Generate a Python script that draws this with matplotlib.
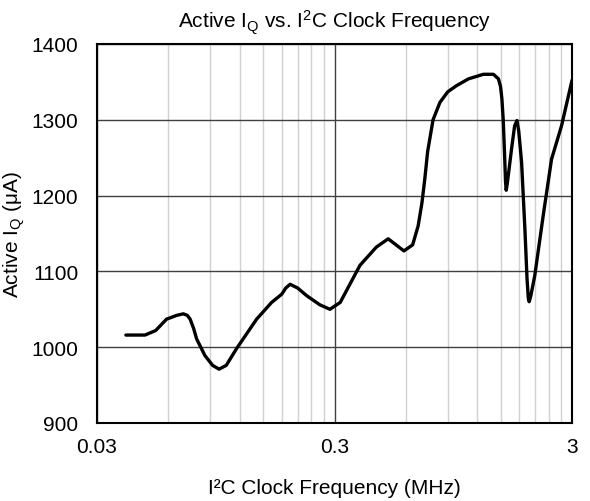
import matplotlib
matplotlib.use('Agg')
import matplotlib.pyplot as plt
from matplotlib.ticker import FixedLocator, NullFormatter

plt.rcParams['font.family'] = ['Liberation Sans', 'DejaVu Sans']
plt.rcParams['mathtext.fontset'] = 'custom'
plt.rcParams['mathtext.rm'] = 'Liberation Sans'
plt.rcParams['mathtext.it'] = 'Liberation Sans'

# clock frequency (MHz) and active current (uA)
freq = [0.0397, 0.0478, 0.0530, 0.0589, 0.0650, 0.0693, 0.0720, 0.0740, 0.0765, 0.0788,
        0.0854, 0.0920, 0.0980, 0.1050, 0.1160, 0.1410, 0.1630, 0.1800, 0.1870, 0.1950,
        0.2100, 0.2290, 0.2600, 0.2870, 0.3170, 0.3840, 0.4500, 0.5050, 0.5880, 0.6400,
        0.6750, 0.7000, 0.7200, 0.7400, 0.7800, 0.8340, 0.9000, 0.9790, 1.1000, 1.2700,
        1.4000, 1.4700, 1.5000, 1.5200, 1.5400, 1.5600, 1.5750, 1.5850, 1.6000, 1.6300,
        1.6700, 1.7200, 1.7600, 1.7900, 1.8400, 1.9000, 1.9400, 1.9650, 1.9800, 2.0100,
        2.0900, 2.2700, 2.4600, 2.7100, 3.0000]
iq = [1016, 1016, 1022, 1037, 1042, 1044, 1042, 1037, 1025, 1011,
      989, 976, 971, 976, 998, 1037, 1059, 1070, 1078, 1083,
      1078, 1068, 1056, 1050, 1059, 1108, 1132, 1143, 1127, 1135,
      1160, 1190, 1222, 1258, 1300, 1323, 1337, 1345, 1354, 1360,
      1360, 1354, 1344, 1328, 1300, 1255, 1218, 1207, 1215, 1235,
      1262, 1292, 1299, 1285, 1244, 1156, 1090, 1064, 1060, 1067,
      1094, 1174, 1248, 1292, 1352]

xticks = [0.03, 0.3, 3]
xticklabels = ['0.03', '0.3', '3']
xminor = [0.03 * k for k in range(2, 10)] + [0.3 * k for k in range(2, 10)]
yticks = [900, 1000, 1100, 1200, 1300, 1400]

fig = plt.figure(figsize=(5.9, 5.02), dpi=100)
ax = fig.add_axes([0.1644, 0.1554, 0.8051, 0.755])

ax.set_xscale('log')
ax.set_xlim(0.03, 3)
ax.set_ylim(900, 1400)
ax.set_xticks(xticks)
ax.set_xticklabels(xticklabels)
ax.xaxis.set_minor_locator(FixedLocator(xminor))
ax.xaxis.set_minor_formatter(NullFormatter())
ax.set_yticks(yticks)

ax.grid(True, which='minor', axis='x', color='#d0d0d0', linewidth=1)
ax.grid(True, which='major', axis='x', color='#404040', linewidth=1)
ax.grid(True, which='major', axis='y', color='#404040', linewidth=1)
ax.set_axisbelow(True)

ax.plot(freq, iq, color='black', linewidth=2.4, solid_joinstyle='round', solid_capstyle='round')

for s in ax.spines.values():
    s.set_linewidth(1.5)
    s.set_color('black')
ax.tick_params(which='both', length=0, labelsize=15)
ax.tick_params(axis='y', pad=13.5)
ax.tick_params(axis='x', pad=10)

ax.set_title(r'Active I$_\mathregular{Q}$ vs. I$^\mathregular{2}$C Clock Frequency', fontsize=15, pad=12)
ax.set_xlabel('I²C Clock Frequency (MHz)', fontsize=15, labelpad=16)
ax.set_ylabel(r'Active I$_\mathregular{Q}$ ($\mathregular{\mu}$A)', fontsize=15, labelpad=3.5)

plt.savefig('out.png', dpi=100)
